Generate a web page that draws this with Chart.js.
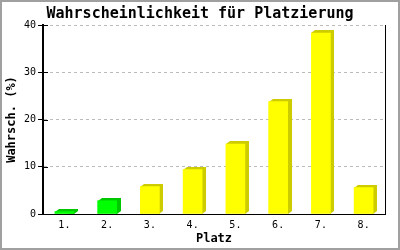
<!DOCTYPE html>
<html>
<head>
<meta charset="utf-8">
<script src="https://cdn.jsdelivr.net/npm/chart.js@4"></script>
<style>
  html, body { margin: 0; padding: 0; background: #fff; }
  #wrap { width: 400px; height: 250px; }
</style>
</head>
<body>
<div id="wrap"><canvas id="chart" width="400" height="250"></canvas></div>
<script>
// data
const places = ['1.', '2.', '3.', '4.', '5.', '6.', '7.', '8.'];
const probabilities = [0.5, 2.8, 5.8, 9.4, 14.8, 23.8, 38.3, 5.6];
const yTicks = [0, 10, 20, 30, 40];

const MONO = "'DejaVu Sans Mono', 'Liberation Mono', monospace";
const GREEN = '#00ff00', GREEN_SIDE = '#00c800';
const YELLOW = '#ffff00', YELLOW_SIDE = '#cccc00';

// first two places in green, rest in yellow
const frontColors = places.map((p, i) => i < 2 ? GREEN : YELLOW);
const sideColors = places.map((p, i) => i < 2 ? GREEN_SIDE : YELLOW_SIDE);

// draws the 3D top/side faces of each bar behind the front face
const barDepth = {
    id: 'barDepth',
    beforeDatasetsDraw(chart) {
        const ctx = chart.ctx;
        const dx = 4, dy = 3;
        chart.getDatasetMeta(0).data.forEach((bar, i) => {
            const { x, y, base, width } = bar.getProps(['x', 'y', 'base', 'width'], true);
            const l = Math.round(x - width / 2), r = l + Math.round(width);
            const t = Math.round(y), b = Math.round(base);
            ctx.save();
            ctx.fillStyle = sideColors[i];
            ctx.beginPath();
            ctx.moveTo(l, t);
            ctx.lineTo(l + dx, t - dy);
            ctx.lineTo(r + dx, t - dy);
            ctx.lineTo(r + dx, b - dy);
            ctx.lineTo(r, b);
            ctx.closePath();
            ctx.fill();
            ctx.restore();
        });
    }
};

// frame, right border line and inner tick stubs
const decor = {
    id: 'decor',
    afterDraw(chart) {
        const { ctx, chartArea: a } = chart;
        const ys = chart.scales.y;
        ctx.save();
        ctx.strokeStyle = '#000';
        ctx.lineWidth = 1;
        ctx.beginPath();
        ctx.moveTo(a.right + 0.5, a.top);
        ctx.lineTo(a.right + 0.5, a.bottom);
        yTicks.forEach(v => {
            const py = Math.round(ys.getPixelForValue(v)) + 0.5;
            ctx.moveTo(a.left, py);
            ctx.lineTo(a.left + 5, py);
        });
        ctx.stroke();
        ctx.strokeStyle = '#a0a0a0';
        ctx.lineWidth = 2;
        ctx.strokeRect(1, 1, chart.width - 2, chart.height - 2);
        ctx.restore();
    }
};

new Chart(document.getElementById('chart'), {
    type: 'bar',
    data: {
        labels: places,
        datasets: [{
            data: probabilities,
            backgroundColor: frontColors,
            borderWidth: 0,
            barThickness: 19
        }]
    },
    options: {
        responsive: false,
        animation: false,
        events: [],
        layout: { padding: 0 },
        plugins: {
            legend: { display: false },
            tooltip: { enabled: false },
            title: {
                display: true,
                text: 'Wahrscheinlichkeit für Platzierung',
                color: '#000',
                font: { family: MONO, size: 15, weight: 'bold' },
                padding: { top: 5, bottom: 2 }
            }
        },
        scales: {
            x: {
                grid: { display: false, drawTicks: false, tickLength: 0 },
                border: { color: '#000', width: 1 },
                ticks: { color: '#000', font: { family: MONO, size: 10 }, padding: 5 },
                title: {
                    display: true,
                    text: 'Platz',
                    color: '#000',
                    font: { family: MONO, size: 12, weight: 'bold' },
                    padding: { top: 0, bottom: 4 }
                },
                afterFit(scale) { scale.height = 36; }
            },
            y: {
                min: 0,
                max: 40,
                afterBuildTicks(scale) { scale.ticks = yTicks.map(v => ({ value: v })); },
                grid: {
                    color: '#bbbbbb',
                    tickColor: '#000',
                    tickLength: 5,
                    tickBorderDash: []
                },
                border: { color: '#000', width: 2, dash: [3, 3] },
                ticks: { color: '#000', font: { family: MONO, size: 10 }, padding: 2 },
                title: {
                    display: true,
                    text: 'Wahrsch. (%)',
                    color: '#000',
                    font: { family: MONO, size: 12, weight: 'bold' },
                    padding: { top: 5, bottom: 0 }
                },
                afterFit(scale) { scale.width = 43; }
            },
            // empty right-hand margin so the title stays centred on the canvas
            yRight: {
                position: 'right',
                min: 0,
                max: 40,
                grid: { display: false, drawTicks: false },
                border: { display: false },
                ticks: { display: false },
                afterFit(scale) { scale.width = 15; }
            }
        }
    },
    plugins: [barDepth, decor]
});
</script>
</body>
</html>
